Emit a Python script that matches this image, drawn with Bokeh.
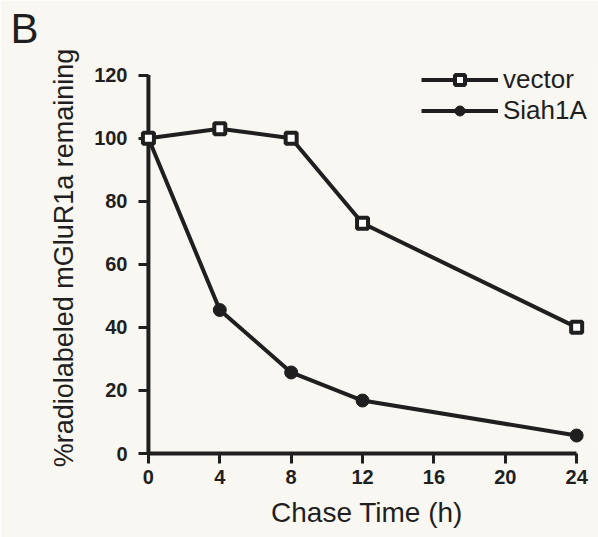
from bokeh.plotting import figure
from bokeh.models import Range1d, FixedTicker, Legend, LegendItem, Title
from bokeh.embed import file_html
from bokeh.resources import INLINE

time_h = [0, 4, 8, 12, 24]
vector = [100, 103, 100, 73, 40]
siah1a = [100, 45.5, 25.7, 16.8, 5.7]
x_ticks = [0, 4, 8, 12, 16, 20, 24]
y_ticks = [0, 20, 40, 60, 80, 100, 120]

INK = "#1f1f1f"
BG = "#f9f7f1"
FONT = "Liberation Sans"

p = figure(width=598, height=537, output_backend="svg", toolbar_location=None,
           x_range=Range1d(-0.5, 25.0), y_range=Range1d(0, 124),
           min_border_left=139, min_border_right=4, min_border_top=61, min_border_bottom=84,
           background_fill_color=BG, border_fill_color=BG, outline_line_color=None)

p.title.visible = False

# thin spacer next to the frame, then the panel letter above it
p.add_layout(Title(text=" ", text_font_size="1px", standoff=2), "above")
p.add_layout(Title(text="B", text_font=FONT, text_font_size="42px", text_font_style="normal",
                   text_color=INK, align="left", vertical_align="top", offset=-129,
                   standoff=8), "above")

p.xgrid.visible = False
p.ygrid.visible = False

for ax in (p.xaxis[0], p.yaxis[0]):
    ax.axis_line_width = 4
    ax.axis_line_color = INK
    ax.major_tick_line_width = 3
    ax.major_tick_line_color = INK
    ax.major_tick_out = 10
    ax.major_tick_in = 0
    ax.minor_tick_line_color = None
    ax.major_label_text_font = FONT
    ax.major_label_text_font_style = "bold"
    ax.major_label_text_font_size = "20px"
    ax.major_label_text_color = INK
    ax.axis_label_text_font = FONT
    ax.axis_label_text_font_style = "normal"
    ax.axis_label_text_color = INK

p.xaxis.ticker = FixedTicker(ticks=x_ticks)
p.xaxis.bounds = (0, 24)
p.xaxis.axis_label = "Chase Time (h)"
p.xaxis.axis_label_text_font_size = "28px"
p.xaxis.major_label_standoff = 6
p.xaxis.axis_label_standoff = 10

# y axis sits at the frame's left edge (x = -0.5); its line is drawn at x = 0 over the tick span
p.yaxis.ticker = FixedTicker(ticks=y_ticks)
p.yaxis.axis_line_color = None
p.yaxis.major_tick_out = 1
p.yaxis.major_tick_in = 9
p.yaxis.axis_label = "%radiolabeled mGluR1a remaining"
p.yaxis.axis_label_text_font_size = "27px"
p.yaxis.major_label_standoff = 11
p.yaxis.axis_label_standoff = 12
p.segment(x0=[x_ticks[0]], y0=[y_ticks[0]], x1=[x_ticks[0]], y1=[y_ticks[-1]],
          line_color=INK, line_width=4)

r2 = p.line(time_h, siah1a, line_width=4, color=INK)
s2 = p.scatter(time_h, siah1a, marker="circle", size=13, fill_color=INK, line_color=INK,
               line_width=1, level="overlay")
r1 = p.line(time_h, vector, line_width=4, color=INK)
s1 = p.scatter(time_h, vector, marker="square", size=11, fill_color="white", line_color=INK,
               line_width=4, level="overlay")

legend = Legend(items=[LegendItem(label="vector", renderers=[r1, s1]),
                       LegendItem(label="Siah1A", renderers=[r2, s2])],
                location=(282, 327), glyph_width=77, glyph_height=25, label_standoff=5,
                spacing=-6, padding=0, margin=0, border_line_color=None,
                background_fill_alpha=0, label_text_font=FONT, label_text_font_size="26px",
                label_text_color=INK)
p.add_layout(legend)

open("out.html", "w").write(file_html(p, INLINE))
